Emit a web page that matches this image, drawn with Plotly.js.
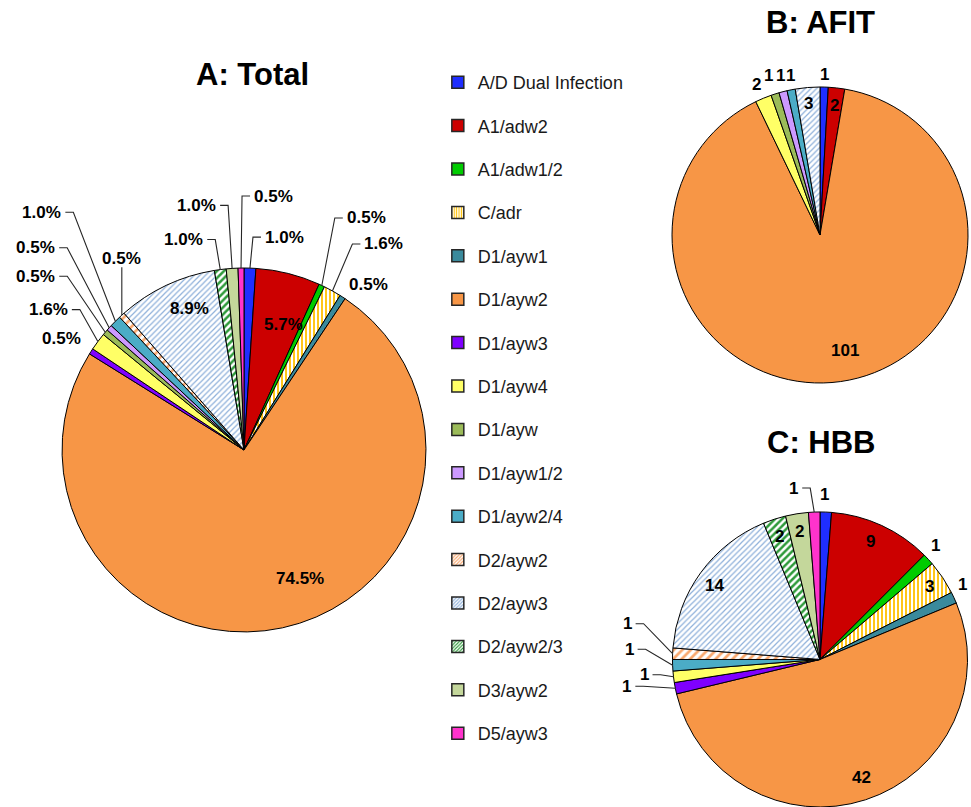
<!DOCTYPE html>
<html>
<head>
<meta charset="utf-8">
<script src="https://cdn.plot.ly/plotly-3.0.1.min.js"></script>
<style>html,body{margin:0;padding:0;background:#fff;}#chart{width:971px;height:807px;}</style>
</head>
<body>
<div id="chart"></div>
<script>
// ---- data ----
var categories = ['A/D Dual Infection','A1/adw2','A1/adw1/2','C/adr','D1/ayw1','D1/ayw2','D1/ayw3','D1/ayw4',
                  'D1/ayw','D1/ayw1/2','D1/ayw2/4','D2/ayw2','D2/ayw3','D2/ayw2/3','D3/ayw2','D5/ayw3'];
var afitCounts = [1, 2, 0, 0, 0, 101, 0, 2, 1, 1, 1, 0, 3, 0, 0, 0];
var hbbCounts  = [1, 9, 1, 3, 1, 42, 1, 1, 0, 0, 1, 1, 14, 2, 2, 1];
var totalCounts = afitCounts.map(function(v, i){ return v + hbbCounts[i]; });
var panelTitles = ['A: Total', 'B: AFIT', 'C: HBB'];

// ---- styles ----
var colors = ['#1F2EFF','#CC0000','#00CC00','#FFFFFF','#3A8A9C','#F79646','#7F00FF','#FFFF66',
              '#9BBB59','#CC99FF','#4BACC6','#FFFFFF','#FFFFFF','#FFFFFF','#C4D79B','#FF33CC'];
var patShape = ['','','','|','','','','','','','','/','/','/','',''];
var patFg    = ['','','','#FFC000','','','','','','','','#F9A86E','#8EB0DA','#2E9A3A','',''];
var patSize  = [8,8,8,4,8,8,8,8,8,8,8,6,4,5,8,8];
var patSol   = [0.3,0.3,0.3,0.45,0.3,0.3,0.3,0.3,0.3,0.3,0.3,0.45,0.3,0.5,0.3,0.3];

// label placement styles per category: ['in', radiusFraction, angleShiftDeg] or
// ['out', dxPx, dyPx, leader('h'|'v'|''), xanchor]
var labelStyleA = [
  ['out', 13, -31, 'h', 'left'], ['in', 0.72, 3.3], ['out', 23, -67.5, 'h', 'left'], ['out', 30, -47, 'h', 'left'],
  ['out', 4, -13, '', 'left'], ['in', 0.77, -11.4], ['out', -8, -13, '', 'right'], ['out', -28, -32, 'h', 'right'],
  ['out', -48, -56, 'h', 'right'], ['out', -52, -80, 'h', 'right'], ['out', -52, -109, 'h', 'right'], ['out', 0, -57, 'v', 'center'],
  ['in', 0.83, 4.3], ['out', -15, -30, 'h', 'right'], ['out', -14, -63, 'h', 'right'], ['out', 11, -72, 'h', 'left']
];
var labelStyleB = [
  ['out', 0, -13, '', 'center'], ['in', 0.88, 0], null, null,
  null, ['in', 0.8, -4.2], null, ['out', -7, -14, '', 'center'],
  ['out', -6.5, -18, '', 'center'], ['out', -2.4, -16, '', 'center'], ['out', -0.6, -14, '', 'center'], null,
  ['in', 0.89, 0], null, null, null
];
var labelStyleC = [
  ['out', -1, -18, '', 'center'], ['in', 0.87, -1.5], ['out', 7, -13.5, '', 'center'], ['in', 0.89, 0],
  ['out', 9, -13, '', 'center'], ['in', 0.85, -1.4], ['out', -42, -2, 'h', 'right'], ['out', -23, -2, 'h', 'right'],
  null, null, ['out', -37, -16, 'h', 'right'], ['out', -39, -30, 'h', 'right'],
  ['in', 0.87, -1], ['in', 0.88, 0], ['in', 0.88, 0], ['out', -14, -24, 'h', 'right']
];

var FONT = 'Liberation Sans, Arial, sans-serif';
var W = 971, H = 807;

function pieTrace(counts, domain) {
  var idx = [];
  counts.forEach(function(v, i){ if (v > 0) idx.push(i); });
  return {
    type: 'pie',
    labels: idx.map(function(i){ return categories[i]; }),
    values: idx.map(function(i){ return counts[i]; }),
    sort: false,
    direction: 'clockwise',
    rotation: 0,
    domain: domain,
    showlegend: false,
    hoverinfo: 'label+value+percent',
    textinfo: 'none',
    marker: {
      colors: idx.map(function(i){ return colors[i]; }),
      line: {color: '#000', width: 1},
      pattern: {
        shape: idx.map(function(i){ return patShape[i]; }),
        fgcolor: idx.map(function(i){ return patFg[i] || '#000'; }),
        bgcolor: idx.map(function(){ return '#FFFFFF'; }),
        size: idx.map(function(i){ return patSize[i]; }),
        solidity: idx.map(function(i){ return patSol[i]; }),
        fillmode: 'replace'
      }
    }
  };
}

var pieDomains = [
  {x: [0.0639, 0.4387], y: [0.2169, 0.6679]},
  {x: [0.692, 0.997], y: [0.5254, 0.8922]},
  {x: [0.692, 0.997], y: [0.0, 0.3656]}
];
var pieCounts = [totalCounts, afitCounts, hbbCounts];
var pieStyles = [labelStyleA, labelStyleB, labelStyleC];

var traces = pieCounts.map(function(c, k){ return pieTrace(c, pieDomains[k]); });

// legend entries (one per category, each its own group for spacing)
categories.forEach(function(c, i){
  traces.push({
    type: 'bar', x: [0], y: [null], name: c, legendgroup: 'g' + i,
    xaxis: 'x', yaxis: 'y', hoverinfo: 'skip',
    marker: {
      color: colors[i],
      line: {color: '#262626', width: 1.5},
      pattern: patShape[i] ? {shape: patShape[i], fgcolor: patFg[i], bgcolor: '#FFFFFF', size: 3, solidity: 0.45} : {shape: ''}
    }
  });
});

var titleAnnotations = [
  {text: panelTitles[0], x: 253/W, y: 1 - 75/H},
  {text: panelTitles[1], x: 820/W, y: 1 - 22/H},
  {text: panelTitles[2], x: 821/W, y: 1 - 443/H}
].map(function(a){
  return Object.assign({xref: 'paper', yref: 'paper', xanchor: 'center', yanchor: 'middle',
    showarrow: false, font: {family: FONT, size: 31, color: '#000', weight: 'bold'}}, a);
});

var layout = {
  width: W, height: H,
  margin: {l: 0, r: 0, t: 0, b: 0},
  paper_bgcolor: '#fff', plot_bgcolor: 'rgba(0,0,0,0)',
  showlegend: true,
  xaxis: {visible: false, domain: [0.45, 0.46], fixedrange: true},
  yaxis: {visible: false, domain: [0.0, 0.01], fixedrange: true},
  legend: {
    x: 0.4509, y: 1 - 64/H, xanchor: 'left', yanchor: 'top',
    font: {family: FONT, size: 18, color: '#1a1a1a'},
    tracegroupgap: 17, itemwidth: 30, bgcolor: 'rgba(0,0,0,0)'
  },
  annotations: titleAnnotations
};

function px2paper(x, y) { return [x / W, 1 - y / H]; }

function buildLabels(gd) {
  var anns = titleAnnotations.slice();
  var shapes = [];
  pieCounts.forEach(function(counts, k){
    var cd0 = gd.calcdata[k][0];
    var cx = cd0.cx, cy = cd0.cy, r = cd0.r;
    var total = counts.reduce(function(a, b){ return a + b; }, 0);
    var cum = 0;
    counts.forEach(function(v, i){
      if (v <= 0) return;
      var mid = (cum + v / 2) / total * 360;
      cum += v;
      var st = pieStyles[k][i];
      if (!st) return;
      var txt = k === 0 ? (v / total * 100).toFixed(1) + '%' : String(v);
      var font = {family: FONT, size: 17, color: '#000', weight: 'bold'};
      if (st[0] === 'in') {
        var a = (mid + st[2]) * Math.PI / 180;
        var p = px2paper(cx + st[1] * r * Math.sin(a), cy - st[1] * r * Math.cos(a));
        anns.push({xref: 'paper', yref: 'paper', x: p[0], y: p[1], text: txt, showarrow: false,
                   xanchor: 'center', yanchor: 'middle', font: font});
      } else {
        var am = mid * Math.PI / 180;
        var ax = cx + r * Math.sin(am), ay = cy - r * Math.cos(am);
        var lx = ax + st[1], ly = ay + st[2];
        var q = px2paper(lx, ly);
        anns.push({xref: 'paper', yref: 'paper', x: q[0], y: q[1], text: txt, showarrow: false,
                   xanchor: st[4], yanchor: 'middle', font: font});
        var pts = null;
        if (st[3] === 'h') {
          var s = st[1] >= 0 ? 1 : -1;
          pts = [[ax, ay], [lx - s * 10, ly], [lx - s * 2, ly]];
        } else if (st[3] === 'v') {
          pts = [[ax, ay], [ax, ly + 9]];
        }
        if (pts) {
          var path = pts.map(function(pt, j){
            var pp = px2paper(pt[0], pt[1]);
            return (j ? 'L' : 'M') + pp[0].toFixed(5) + ',' + pp[1].toFixed(5);
          }).join(' ');
          shapes.push({type: 'path', xref: 'paper', yref: 'paper', path: path,
                       line: {color: '#262626', width: 1.1}});
        }
      }
    });
  });
  return {annotations: anns, shapes: shapes};
}

Plotly.newPlot('chart', traces, layout, {displayModeBar: false, staticPlot: true}).then(function(gd){
  var upd = buildLabels(gd);
  return Plotly.relayout(gd, upd);
});
</script>
</body>
</html>
